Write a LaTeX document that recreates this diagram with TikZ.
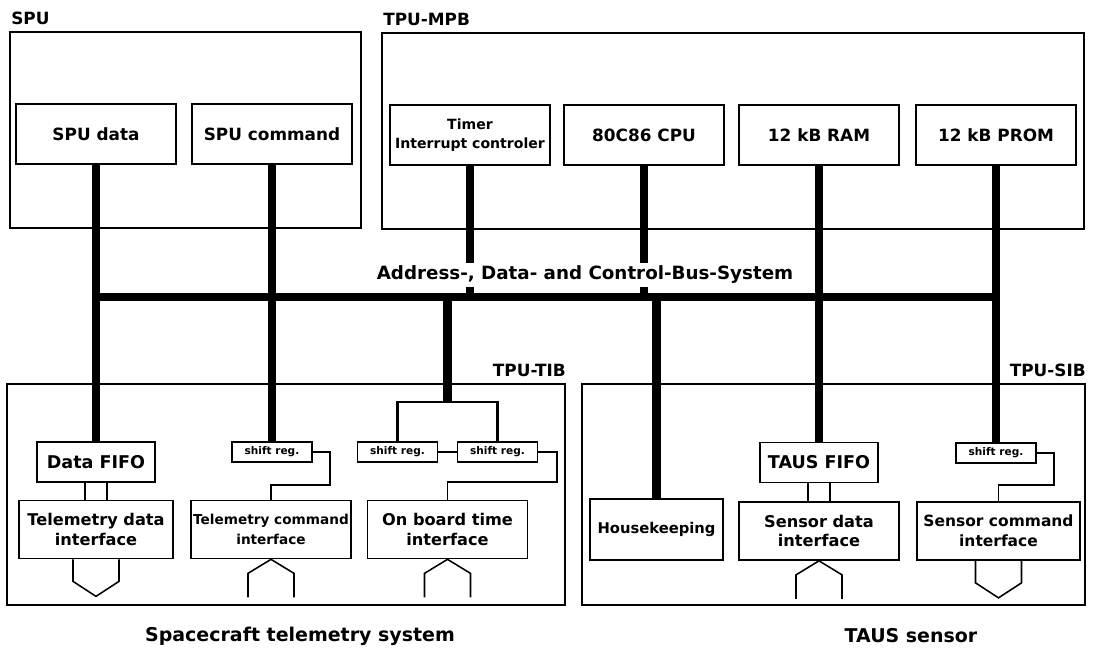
\documentclass[tikz,border=0pt]{standalone}
\usepackage{fontspec}
\setmainfont{DejaVu Sans}
\usetikzlibrary{positioning}

\begin{document}
\begin{tikzpicture}[x=0.025cm, y=-0.025cm,
  board/.style={draw, line width=1.2pt, inner sep=0pt},
  blk/.style={draw, line width=1.2pt, minimum width=4cm, minimum height=1.5cm, inner sep=1pt, align=center, font=\bfseries\fontsize{12}{14}\selectfont},
  ifc/.style={blk, minimum height=1.45cm, font=\bfseries\fontsize{11.5}{14}\selectfont},
  fifo/.style={blk, minimum width=2.95cm, minimum height=1cm, font=\bfseries\fontsize{12.5}{14}\selectfont},
  sreg/.style={draw, line width=1.1pt, minimum width=2cm, minimum height=0.5cm, inner sep=0pt, font=\bfseries\fontsize{7.5}{8}\selectfont},
  buswire/.style={line width=6pt},
  wire/.style={line width=1.1pt},
  fork/.style={line width=2pt},
  lbl/.style={inner sep=0pt, font=\bfseries\fontsize{12}{14}\selectfont},
  sysname/.style={font=\bfseries\fontsize{13.5}{15}\selectfont}]

  \useasboundingbox (0,0) rectangle (1097,657);

  % Boards
  \node[board, minimum width=8.775cm, minimum height=4.9cm] (spu) at (185.5,130) {};
  \node[board, minimum width=17.55cm, minimum height=4.9cm] (mpb) at (733,131) {};
  \node[board, minimum width=13.95cm, minimum height=5.525cm] (tib) at (286,494.5) {};
  \node[board, minimum width=12.575cm, minimum height=5.525cm] (sib) at (833.5,494.5) {};

  \node[lbl, anchor=west] (spulbl) at (11,18) {SPU};
  \node[lbl, anchor=west] (mpblbl) at (383,19) {TPU-MPB};
  \node[lbl, anchor=east] (tiblbl) at (566,370) {TPU-TIB};
  \node[lbl, anchor=east] (siblbl) at (1086,370) {TPU-SIB};

  % SPU
  \node[blk] (spudata) at (96,134) {SPU data};
  \node[blk] (spucmd) at (272,134) {SPU command};

  % TPU-MPB
  \node[blk, font=\bfseries\fontsize{10}{13}\selectfont] (timer) at (470,135) {Timer\\Interrupt controler};
  \node[blk] (cpu) at (644,135) {80C86 CPU};
  \node[blk] (ram) at (819,135) {12 kB RAM};
  \node[blk] (prom) at (996,135) {12 kB PROM};

  % TPU-TIB
  \node[fifo] (dfifo) at (96,462) {Data FIFO};
  \node[ifc, minimum width=3.85cm] (tdi) at (96,529.5) {Telemetry data\\interface};
  \node[sreg] (sreg1) at (272,452) {shift reg.};
  \node[ifc, font=\bfseries\fontsize{9.7}{14}\selectfont] (tci) at (271,529.5) {Telemetry command\\interface};
  \node[sreg] (sreg2) at (397.5,452) {shift reg.};
  \node[sreg] (sreg3) at (497.5,452) {shift reg.};
  \node[ifc] (obt) at (447.5,529.5) {On board time\\interface};

  % TPU-SIB
  \node[ifc, minimum width=3.325cm, minimum height=1.525cm, font=\bfseries\fontsize{10.5}{14}\selectfont] (hk) at (656.5,529.5) {Housekeeping};
  \node[fifo] (tfifo) at (819,462.5) {TAUS FIFO};
  \node[ifc] (sdi) at (819,531) {Sensor data\\interface};
  \node[sreg] (sreg4) at (996,453) {shift reg.};
  \node[ifc, minimum width=4.075cm, font=\bfseries\fontsize{11}{14}\selectfont] (sci) at (998.5,531) {Sensor command\\interface};

  % Bus
  \coordinate (busL) at (96,297);
  \coordinate (busR) at (996,297);
  \draw[buswire] (busL) -- (busR);

  \draw[buswire] (spudata.south) -- (dfifo.north);
  \draw[buswire] (spucmd.south) -- (sreg1.north);
  \draw[buswire] (timer.south) -- (timer.south |- busL);
  \draw[buswire] (cpu.south) -- (cpu.south |- busL);
  \draw[buswire] (ram.south) -- (tfifo.north);
  \draw[buswire] (prom.south) -- (sreg4.north);
  \draw[buswire] (hk.north |- busL) -- (hk.north);

  % TIB fork
  \coordinate (forkpt) at (447.5,402);
  \draw[buswire] (forkpt |- busL) -- (forkpt);
  \draw[fork] (sreg2.north) |- (forkpt) -| (sreg3.north);

  \node[lbl, fill=white, inner sep=2pt, font=\bfseries\fontsize{13}{15}\selectfont] (bustxt) at (585,275) {Address-, Data- and Control-Bus-System};

  % Serial links
  \draw[wire] (sreg1.east) -| (330,485) -| (tci.north);
  \draw[wire] (sreg2.east) -- (sreg3.west);
  \draw[wire] (sreg3.east) -| (557,482) -| (obt.north);
  \draw[wire] (sreg4.east) -| (1054,485) -| (sci.north);

  % Parallel links
  \foreach \dx in {-0.28,0.28} {
    \draw[wire] ([xshift=\dx cm]dfifo.south) -- ([xshift=\dx cm]tdi.north);
    \draw[wire] ([xshift=\dx cm]tfifo.south) -- ([xshift=\dx cm]sdi.north);
  }

  % Outputs
  \foreach \n in {tdi,sci}
    \draw[wire] ([xshift=-0.575cm]\n.south) -- ++(0,22) -- ++(23,15) -- ++(23,-15) -- ++(0,-22);
  % Inputs
  \foreach \n in {tci,obt,sdi}
    \draw[wire] ([xshift=-0.575cm]\n.south) ++(0,38) -- ++(0,-24) -- ++(23,-14) -- ++(23,14) -- ++(0,24);

  \node[sysname] (sctm) at (300,636) {Spacecraft telemetry system};
  \node[sysname] (taus) at (911,636) {TAUS sensor};
\end{tikzpicture}
\end{document}
